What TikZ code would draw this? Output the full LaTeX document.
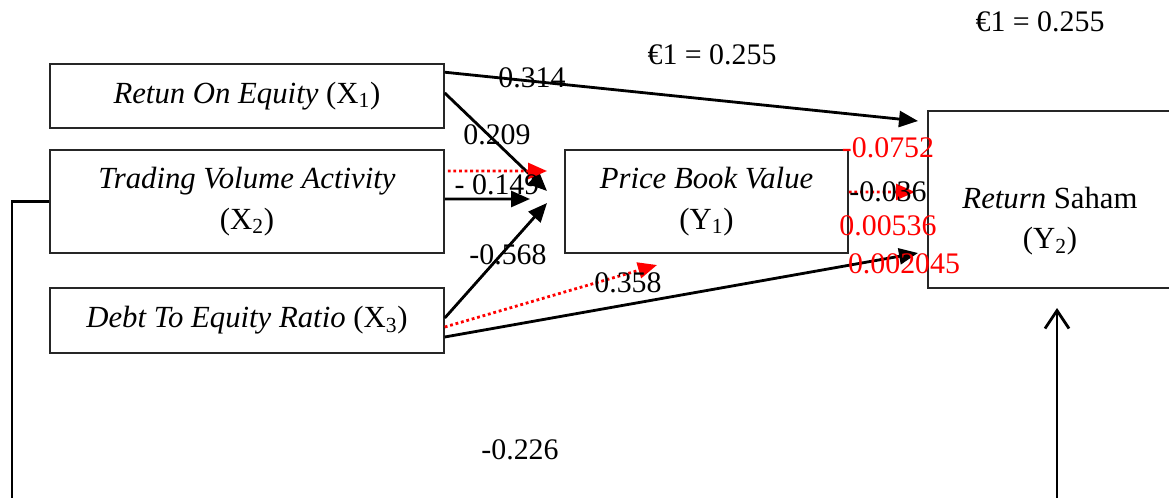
\documentclass[tikz,border=0pt]{standalone}
\usepackage{fontspec}
\setmainfont{Liberation Serif}
\usepackage{xcolor}
\usetikzlibrary{arrows.meta}

\tikzset{
  varbox/.style={draw=black!85, line width=0.9pt, align=center, inner sep=0pt,
    font=\fontsize{17.5}{23}\selectfont},
  coef/.style={inner sep=0pt, font=\fontsize{17}{19}\selectfont},
  redcoef/.style={coef, text=red},
  effect/.style={line width=1.6pt, -{Triangle[length=0.38cm,width=0.32cm]}},
  redeffect/.style={red, dash pattern=on 1.6pt off 1.6pt, line width=1.6pt,
    -{Triangle[length=0.38cm,width=0.32cm]}},
}

\begin{document}
\begin{tikzpicture}[x=0.02cm,y=-0.02cm]
  \useasboundingbox (0,0) rectangle (1169,497);

  % variabel
  \node[varbox, minimum width=7.88cm, minimum height=1.28cm] (X1) at (247,96)
    {\textit{Retun On Equity} (X\textsubscript{1})};
  \node[varbox, minimum width=7.88cm, minimum height=2.06cm] (X2) at (247,201.5)
    {\textit{Trading Volume Activity}\\(X\textsubscript{2})};
  \node[varbox, minimum width=7.88cm, minimum height=1.30cm] (X3) at (247,320.5)
    {\textit{Debt To Equity Ratio} (X\textsubscript{3})};
  \node[varbox, minimum width=5.66cm, minimum height=2.06cm] (Y1) at (706.5,201.5)
    {\textit{Price Book Value}\\(Y\textsubscript{1})};
  \draw[draw=black!85, line width=0.9pt] (928,111) rectangle (1200,288);
  \node[align=center, inner sep=0pt, font=\fontsize{17.5}{23}\selectfont] (Y2) at (1050,221)
    {\textit{Return} Saham\\(Y\textsubscript{2})};

  % ujung panah
  \coordinate (y2top) at (918,121);
  \coordinate (y2bot) at (918,253);
  \coordinate (y1a) at (547,191);
  \coordinate (y1b) at (547,171);
  \coordinate (y1c) at (530,199);
  \coordinate (y1d) at (547,203);
  \coordinate (y1e) at (657,265);
  \coordinate (y2mid) at (915,192);
  \coordinate (up) at (1057,308);
  \coordinate (upfoot) at (1057,510);
  \coordinate (leftfoot) at (12,510);

  \draw[effect] ([yshift=-0.18cm]X1.north east) -- (y2top);
  \draw[effect] ([yshift=0.06cm]X1.east) -- (y1a);
  \draw[redeffect] ([xshift=0.06cm,yshift=0.61cm]X2.east) -- (y1b);
  \draw[effect] ([yshift=0.05cm]X2.east) -- (y1c);
  \draw[effect] ([yshift=0.05cm]X3.east) -- (y1d);
  \draw[redeffect] ([yshift=-0.13cm]X3.east) -- (y1e);
  \draw[effect] ([yshift=-0.33cm]X3.east) -- (y2bot);
  \draw[redeffect] ([yshift=0.19cm]Y1.east) -- (y2mid);
  \draw[line width=1.6pt] (X2.west) -- (X2.west -| leftfoot) -- (leftfoot);
  \draw[line width=1.6pt, -{Straight Barb[length=0.36cm,width=0.48cm]}] (upfoot) -- (up);

  % koefisien
  \node[coef] (c1) at (532,78) {0.314};
  \node[coef] (c2) at (497,135) {0.209};
  \node[coef] (c3) at (497,185) {- 0.149};
  \node[coef] (c4) at (508,255) {-0.568};
  \node[coef] (c5) at (628,283) {0.358};
  \node[coef] (c6) at (888,192) {-0.036};
  \node[redcoef] (r1) at (888,148) {-0.0752};
  \node[redcoef] (r2) at (888,226) {0.00536};
  \node[redcoef] (r3) at (904,264) {0.002045};
  \node[coef] (e1) at (712,55) {€1 = 0.255};
  \node[coef] (e2) at (1040,22) {€1 = 0.255};
  \node[coef] (c7) at (520,450) {-0.226};
\end{tikzpicture}
\end{document}
